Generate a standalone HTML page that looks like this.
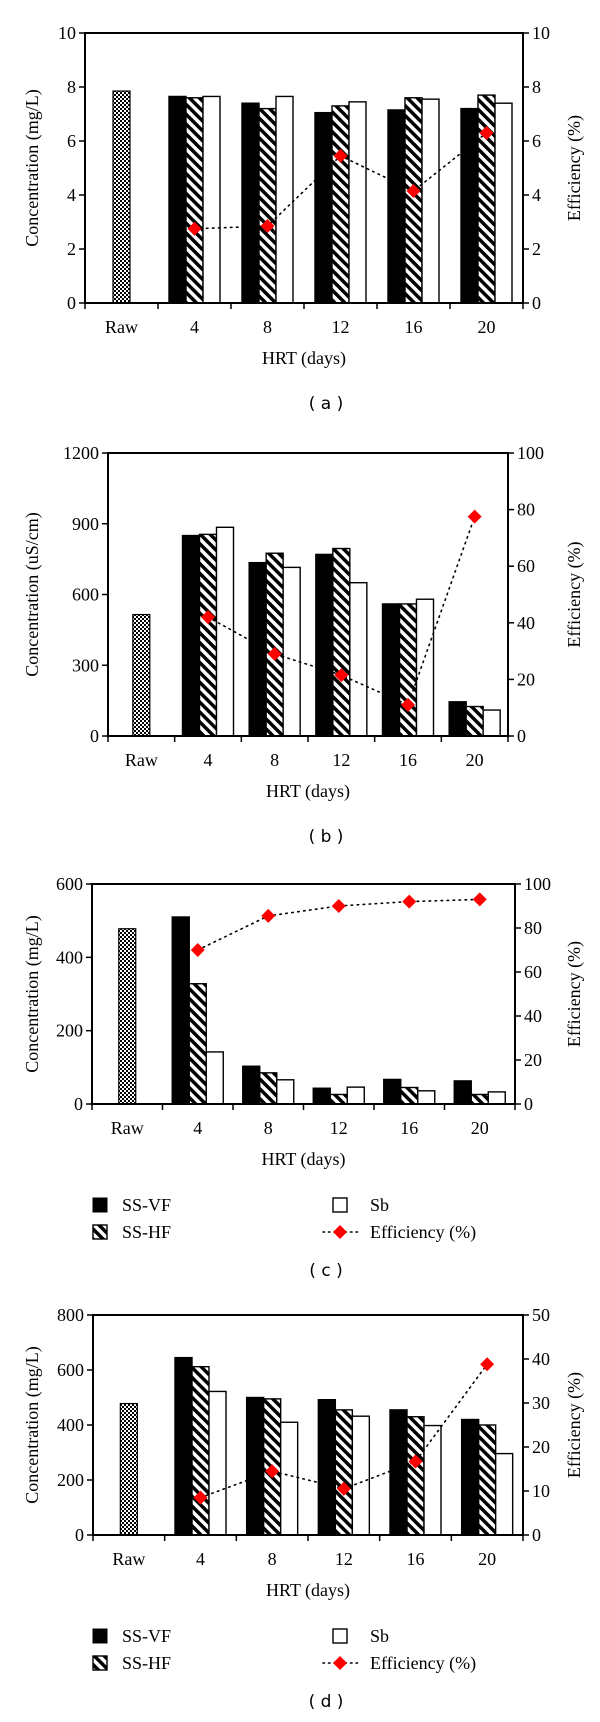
<!DOCTYPE html>
<html><head><meta charset="utf-8">
<style>
html,body{margin:0;padding:0;background:#fff;}
svg{display:block;}
.t{font-family:"Liberation Serif",serif;font-size:18px;fill:#000;}
.cap{font-family:"DejaVu Sans","Liberation Sans",sans-serif;font-size:17px;fill:#000;}
</style></head>
<body>
<svg id="fig" width="600" height="1722" viewBox="0 0 600 1722">
<defs>
<pattern id="chk" width="4" height="4" patternUnits="userSpaceOnUse"><rect width="4" height="4" fill="#fff"/><rect width="2" height="2" fill="#000"/><rect x="2" y="2" width="2" height="2" fill="#000"/></pattern>
<pattern id="hatch" width="7" height="7" patternUnits="userSpaceOnUse" patternTransform="rotate(-45)"><rect width="7" height="7" fill="#fff"/><rect width="3.5" height="7" fill="#000"/></pattern>
</defs>
</svg>
<script>
const cats=["Raw","4","8","12","16","20"];
// Panel a
const aRaw=7.85, aVF=[7.65,7.4,7.05,7.15,7.2], aHF=[7.6,7.2,7.3,7.6,7.7], aSb=[7.65,7.65,7.45,7.55,7.4], aEff=[2.75,2.85,5.45,4.15,6.3];
const aLeftTicks=[0,2,4,6,8,10], aRightTicks=[0,2,4,6,8,10];
// Panel b
const bRaw=515, bVF=[850,735,770,560,145], bHF=[855,775,795,560,125], bSb=[885,715,650,580,110], bEff=[42,29,21.5,11,77.5];
const bLeftTicks=[0,300,600,900,1200], bRightTicks=[0,20,40,60,80,100];
// Panel c
const cRaw=478, cVF=[510,103,43,67,63], cHF=[328,85,26,45,26], cSb=[142,66,46,36,33], cEff=[70,85.5,90,92,93];
const cLeftTicks=[0,200,400,600], cRightTicks=[0,20,40,60,80,100];
// Panel d
const dRaw=478, dVF=[645,500,492,455,420], dHF=[612,495,455,430,400], dSb=[522,410,432,398,296], dEff=[8.5,14.5,10.5,16.7,38.8];
const dLeftTicks=[0,200,400,600,800], dRightTicks=[0,10,20,30,40,50];

const NS="http://www.w3.org/2000/svg";
const svg=document.getElementById('fig');
function mk(tag,attrs,parent,txt){const e=document.createElementNS(NS,tag);for(const k in attrs)e.setAttribute(k,attrs[k]);if(txt!==undefined)e.textContent=txt;(parent||svg).appendChild(e);return e;}

function panel(id,L,R,T,B,raw,vf,hf,sb,eff,lt,rt,ylab,letter,legend){
  const g=mk('g',{});
  
  
  const lmax=lt[lt.length-1], rmax=rt[rt.length-1];
  const yL=v=>B-(v/lmax)*(B-T), yR=v=>B-(v/rmax)*(B-T);
  const cw=(R-L)/cats.length, cx=i=>L+cw*(i+0.5);
  const bw=17;
  let r=mk('rect',{x:cx(0)-bw/2,y:yL(raw),width:bw,height:B-yL(raw),fill:'url(#chk)',stroke:'#000','stroke-width':1.2},g);
  
  
  const series=[[vf,'#000','ss-vf'],[hf,'url(#hatch)','ss-hf'],[sb,'#fff','sb']];
  for(let i=0;i<5;i++){
    series.forEach((s,j)=>{
      const v=s[0][i];const x=cx(i+1)+(j-1.5)*bw;
      const b=mk('rect',{x:x,y:yL(v),width:bw,height:B-yL(v),fill:s[1],stroke:'#000','stroke-width':1.4},g);
      
      
    });
  }
  const pts=eff.map((v,i)=>cx(i+1)+','+yR(v)).join(' ');
  const pl=mk('polyline',{points:pts,fill:'none',stroke:'#000','stroke-width':1.6,'stroke-dasharray':'1.5,4.5','stroke-linecap':'round'},g);
  
  
  eff.forEach((v,i)=>{
    const x=cx(i+1),y=yR(v);
    const d=mk('polygon',{points:`${x},${y-7} ${x+7},${y} ${x},${y+7} ${x-7},${y}`,fill:'#f00'},g);
    
    
  });
  const fr=mk('rect',{x:L,y:T,width:R-L,height:B-T,fill:'none',stroke:'#000','stroke-width':2},g);
  
  
  lt.forEach(v=>{mk('line',{x1:L-6,x2:L,y1:yL(v),y2:yL(v),stroke:'#000','stroke-width':1.5},g);
    const t=mk('text',{x:L-9,y:yL(v)+6,'text-anchor':'end',class:'t'},g,String(v));
    
    });
  rt.forEach(v=>{mk('line',{x1:R,x2:R+6,y1:yR(v),y2:yR(v),stroke:'#000','stroke-width':1.5},g);
    const t=mk('text',{x:R+9,y:yR(v)+6,'text-anchor':'start',class:'t'},g,String(v));
    
    });
  for(let i=0;i<=cats.length;i++){mk('line',{x1:L+cw*i,x2:L+cw*i,y1:B,y2:B+6,stroke:'#000','stroke-width':1.5},g);}
  cats.forEach((c,i)=>{const t=mk('text',{x:cx(i),y:B+30,'text-anchor':'middle',class:'t'},g,c);
    
    });
  let t=mk('text',{x:(L+R)/2,y:B+61,'text-anchor':'middle',class:'t'},g,'HRT (days)');
  
  
  t=mk('text',{x:0,y:0,'text-anchor':'middle',class:'t',transform:`translate(38,${(T+B)/2}) rotate(-90)`},g,ylab);
  
  
  t=mk('text',{x:0,y:0,'text-anchor':'middle',class:'t',transform:`translate(580,${(T+B)/2}) rotate(-90)`},g,'Efficiency (%)');
  
  
  let capY=B+106;
  if(legend){
    const y1=B+101,y2=B+128;
    mk('rect',{x:93,y:y1-7,width:14,height:14,fill:'#000',stroke:'#000'},g);
    mk('text',{x:122,y:y1+6,class:'t'},g,'SS-VF');
    mk('rect',{x:93,y:y2-7,width:14,height:14,fill:'url(#hatch)',stroke:'#000','stroke-width':1.4},g);
    mk('text',{x:122,y:y2+6,class:'t'},g,'SS-HF');
    mk('rect',{x:333,y:y1-7,width:14,height:14,fill:'#fff',stroke:'#000','stroke-width':1.4},g);
    mk('text',{x:370,y:y1+6,class:'t'},g,'Sb');
    mk('line',{x1:323,x2:358,y1:y2,y2:y2,stroke:'#000','stroke-width':1.6,'stroke-dasharray':'1.5,4','stroke-linecap':'round'},g);
    mk('polygon',{points:`340,${y2-7} 347,${y2} 340,${y2+7} 333,${y2}`,fill:'#f00'},g);
    mk('text',{x:370,y:y2+6,class:'t'},g,'Efficiency (%)');
    capY=B+172;
  }
  t=mk('text',{x:326,y:capY,'text-anchor':'middle',class:'cap'},g,'( '+letter+' )');
  
  
}
panel('a',85,523,33,303,aRaw,aVF,aHF,aSb,aEff,aLeftTicks,aRightTicks,'Concentration (mg/L)','a',false);
panel('b',108,508,453,736,bRaw,bVF,bHF,bSb,bEff,bLeftTicks,bRightTicks,'Concentration (uS/cm)','b',false);
panel('c',92,515,884,1104,cRaw,cVF,cHF,cSb,cEff,cLeftTicks,cRightTicks,'Concentration (mg/L)','c',true);
panel('d',93,523,1315,1535,dRaw,dVF,dHF,dSb,dEff,dLeftTicks,dRightTicks,'Concentration (mg/L)','d',true);
</script>
</body></html>
